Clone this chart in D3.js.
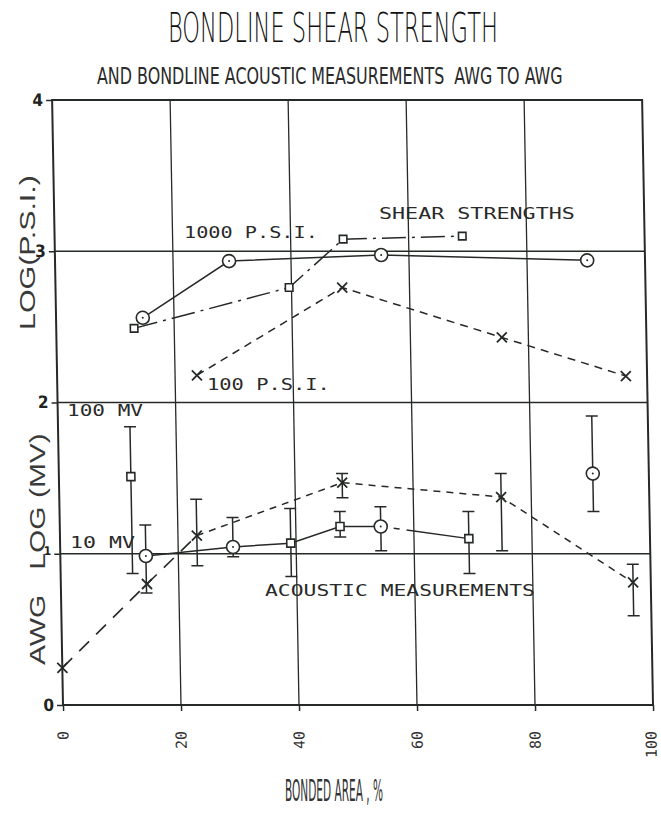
<!DOCTYPE html>
<html>
<head>
<meta charset="utf-8">
<script src="https://cdn.jsdelivr.net/npm/d3@7"></script>
<style>
  html, body { margin: 0; padding: 0; background: #fff; }
  svg { display: block; }
</style>
</head>
<body>
<svg id="chart" width="661" height="830"></svg>
<script>
// ---- axis ticks ----
const xTicks = [0, 20, 40, 60, 80, 100];
const yTicks = [0, 1, 2, 3, 4];

// ---- shear strength, log(psi) ----
const shearCircleX = [14.7, 29.5, 55.3, 90.2];
const shearCircleY = [2.56, 2.935, 2.975, 2.94];
const shearSquareX = [13.2, 39.6, 48.9, 69.1];
const shearSquareY = [2.49, 2.76, 3.08, 3.10];
const shearCrossX = [23.7, 48.6, 75.5, 96.4];
const shearCrossY = [2.18, 2.76, 2.43, 2.175];

// ---- acoustic measurements, log(mV) ----
const acLineX = [14.5, 29.3, 39.1, 47.5, 54.4, 69.3];
const acLineY = [0.985, 1.045, 1.07, 1.18, 1.18, 1.10];
const acLineHi = [1.19, 1.24, 1.30, 1.28, 1.31, 1.28];
const acLineLo = [0.74, 0.98, 0.85, 1.11, 1.02, 0.87];
const acLineMark = ["circle", "circle", "square", "square", "circle", "square"];

const acSingleX = [12.2, 90.5];
const acSingleY = [1.51, 1.53];
const acSingleHi = [1.84, 1.91];
const acSingleLo = [0.87, 1.28];
const acSingleMark = ["square", "circle"];

const acCrossX = [0, 14.6, 23.2, 48.0, 74.9, 97.0];
const acCrossY = [0.245, 0.80, 1.12, 1.47, 1.375, 0.81];
const acCrossHi = [null, null, 1.36, 1.53, 1.53, 0.93];
const acCrossLo = [null, null, 0.92, 1.37, 1.02, 0.59];

const INK = "#262a26";
const MONO = "'DejaVu Sans Mono', 'Liberation Mono', monospace";
const COND = "'DejaVu Sans Condensed', 'Liberation Sans Narrow', 'DejaVu Sans', sans-serif";
const THIN = "'DejaVu Sans', 'Liberation Sans', sans-serif";

const svg = d3.select("#chart");

const x = d3.scaleLinear().domain([0, 100]).range([63, 653]);
const y = d3.scaleLinear().domain([0, 4]).range([705, 100]);

// plotting area is drawn with a slight lean, pivoting on the bottom axis
const plot = svg.append("g")
  .attr("transform", "translate(0,705) skewX(1.03) translate(0,-705)");

// grid
plot.append("g").selectAll("line.v")
  .data([20, 40, 60, 80]).join("line")
  .attr("x1", d => x(d)).attr("x2", d => x(d))
  .attr("y1", y(0)).attr("y2", y(4))
  .attr("stroke", INK).attr("stroke-width", 1.3);
plot.append("g").selectAll("line.h")
  .data([1, 2, 3]).join("line")
  .attr("x1", x(0)).attr("x2", x(100))
  .attr("y1", d => y(d)).attr("y2", d => y(d))
  .attr("stroke", INK).attr("stroke-width", 1.6);

// frame
plot.append("rect")
  .attr("x", x(0)).attr("y", y(4))
  .attr("width", x(100) - x(0)).attr("height", y(0) - y(4))
  .attr("fill", "none").attr("stroke", INK).attr("stroke-width", 2);

// bottom axis with rotated labels
const xAxis = plot.append("g")
  .attr("transform", `translate(0,${y(0)})`)
  .call(d3.axisBottom(x).tickValues(xTicks).tickSize(6).tickFormat(d3.format("d")));
xAxis.select(".domain").remove();
xAxis.selectAll(".tick line").attr("stroke", INK).attr("stroke-width", 1.5);
xAxis.selectAll(".tick text")
  .attr("transform", d => `translate(${d === 100 ? -3 : -1},26) rotate(-90)`)
  .attr("x", 0).attr("y", 0).attr("dy", "0.36em")
  .attr("text-anchor", "end")
  .attr("font-family", MONO)
  .attr("font-size", 15).attr("fill", "#333");

// left axis
const yAxis = plot.append("g")
  .attr("transform", `translate(${x(0)},0)`)
  .call(d3.axisLeft(y).tickValues(yTicks).tickSize(6).tickPadding(3).tickFormat(d3.format("d")));
yAxis.select(".domain").remove();
yAxis.selectAll(".tick line").attr("stroke", INK).attr("stroke-width", 1.5);
yAxis.selectAll(".tick text")
  .attr("font-family", COND).attr("font-weight", "bold")
  .attr("font-size", 17).attr("fill", "#222");
yAxis.selectAll(".tick text").filter(d => d === 1).attr("font-size", 12).attr("dy", "0.1em");

// helpers
const pts = (xs, ys) => xs.map((v, i) => [v, ys[i]]);
const line = d3.line().x(d => x(d[0])).y(d => y(d[1]));

function path(g, data, dash, w) {
  g.append("path").datum(data).attr("d", line)
    .attr("fill", "none").attr("stroke", INK)
    .attr("stroke-width", w || 1.4)
    .attr("stroke-dasharray", dash || null);
}
function marker(g, kind, px, py, r) {
  const cx = x(px), cy = y(py);
  if (kind === "circle") {
    g.append("circle").attr("cx", cx).attr("cy", cy).attr("r", r || 6.5)
      .attr("fill", "#fff").attr("stroke", INK).attr("stroke-width", 1.6);
    g.append("circle").attr("cx", cx).attr("cy", cy).attr("r", 1)
      .attr("fill", INK);
  } else if (kind === "square") {
    const s = r || 8;
    g.append("rect").attr("x", cx - s / 2).attr("y", cy - s / 2)
      .attr("width", s).attr("height", s)
      .attr("fill", "#fff").attr("stroke", INK).attr("stroke-width", 1.6);
  } else {
    const s = r || 5;
    g.append("path")
      .attr("d", `M${cx - s},${cy - s}L${cx + s},${cy + s}M${cx - s},${cy + s}L${cx + s},${cy - s}`)
      .attr("stroke", INK).attr("stroke-width", 1.8).attr("fill", "none");
  }
}
function errbar(g, px, lo, hi) {
  if (lo == null || hi == null) return;
  const cx = x(px);
  g.append("path")
    .attr("d", `M${cx},${y(lo)}L${cx},${y(hi)}M${cx - 6},${y(lo)}L${cx + 6},${y(lo)}M${cx - 6},${y(hi)}L${cx + 6},${y(hi)}`)
    .attr("stroke", INK).attr("stroke-width", 1.5).attr("fill", "none");
}

// ---- shear strength curves ----
const shear = plot.append("g");
path(shear, pts(shearCircleX, shearCircleY), null, 1.5);
path(shear, pts(shearSquareX, shearSquareY), "24,6,3,6", 1.5);
path(shear, pts(shearCrossX, shearCrossY), "8,6", 1.5);
shearCircleX.forEach((v, i) => marker(shear, "circle", v, shearCircleY[i], 6.5));
shearSquareX.forEach((v, i) => marker(shear, "square", v, shearSquareY[i], 7.5));
shearCrossX.forEach((v, i) => marker(shear, "cross", v, shearCrossY[i], 5));

// ---- acoustic curves ----
const ac = plot.append("g");
const acLinePts = pts(acLineX, acLineY);
path(ac, acLinePts.slice(0, 5), null, 1.5);
path(ac, acLinePts.slice(4), "6,7,6,7,400", 1.5);
const acCrossPts = pts(acCrossX, acCrossY);
path(ac, acCrossPts.slice(0, 3), "14,10", 1.6);
path(ac, acCrossPts.slice(2), "7,6", 1.5);

acLineX.forEach((v, i) => errbar(ac, v, acLineLo[i], acLineHi[i]));
acSingleX.forEach((v, i) => errbar(ac, v, acSingleLo[i], acSingleHi[i]));
acCrossX.forEach((v, i) => errbar(ac, v, acCrossLo[i], acCrossHi[i]));

acLineX.forEach((v, i) => marker(ac, acLineMark[i], v, acLineY[i], acLineMark[i] === "circle" ? 6.5 : 8));
acSingleX.forEach((v, i) => marker(ac, acSingleMark[i], v, acSingleY[i], acSingleMark[i] === "circle" ? 6.5 : 8));
acCrossX.forEach((v, i) => marker(ac, "cross", v, acCrossY[i], 5));

// ---- text placed to a fixed width by horizontal scaling ----
function fitText(parent, str, left, baseline, width, font, size, weight, fill) {
  const g = parent.append("g");
  const t = g.append("text")
    .attr("x", 0).attr("y", 0)
    .attr("font-family", font).attr("font-size", size)
    .attr("font-weight", weight || "normal")
    .attr("fill", fill || "#2a2a2a")
    .attr("xml:space", "preserve")
    .text(str);
  const natural = t.node().getComputedTextLength() || width;
  g.attr("transform", `translate(${left},${baseline}) scale(${width / natural},1)`);
  return g;
}

// ---- in-plot annotations ----
const notes = [
  { t: "1000 P.S.I.", x: 184, y: 238, w: 134 },
  { t: "SHEAR STRENGTHS", x: 379, y: 219, w: 196 },
  { t: "100 P.S.I.", x: 207, y: 390, w: 123 },
  { t: "100 MV", x: 67, y: 416, w: 76 },
  { t: "10 MV", x: 70, y: 548, w: 65 },
  { t: "ACOUSTIC MEASUREMENTS", x: 265, y: 596, w: 270 }
];
notes.forEach(n => fitText(svg, n.t, n.x, n.y, n.w, MONO, 16, "normal", "#2a2a2a"));

// ---- titles ----
fitText(svg, "BONDLINE SHEAR STRENGTH", 168, 42, 330, THIN, 40, 200, "#111");
fitText(svg, "AND BONDLINE ACOUSTIC MEASUREMENTS  AWG TO AWG", 97, 84, 466, COND, 23, "normal", "#2a2a2a");
fitText(svg, "BONDED AREA , %", 285, 801, 98, COND, 30, "normal", "#333");

// ---- vertical axis titles ----
const yt1 = svg.append("g").attr("transform", "translate(35,330) rotate(-90)");
fitText(yt1, "LOG(P.S.I.)", 0, 0, 155, "'Liberation Sans', Arimo, sans-serif", 22, "normal", "#3a3a3a");
const yt2 = svg.append("g").attr("transform", "translate(45,665) rotate(-90)");
fitText(yt2, "AWG   LOG (MV)", 0, 0, 232, "'Liberation Sans', Arimo, sans-serif", 22, "normal", "#3a3a3a");
</script>
</body>
</html>
